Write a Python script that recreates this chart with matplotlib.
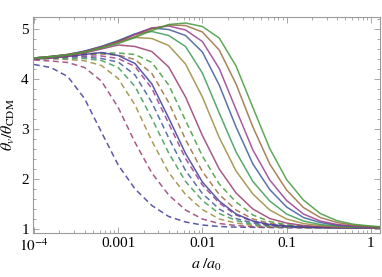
import numpy as np
import matplotlib
matplotlib.use("Agg")
import matplotlib.pyplot as plt
from matplotlib.ticker import FixedLocator, NullFormatter

plt.rcParams["mathtext.fontset"] = "stix"
plt.rcParams["font.family"] = ["Liberation Serif", "DejaVu Serif"]

# log10(a/a0) sample positions shared by every curve
log_a = [-4.0, -3.8, -3.6, -3.4, -3.2, -3.0, -2.8, -2.6, -2.4, -2.2, -2.0,
         -1.8, -1.6, -1.4, -1.2, -1.0, -0.8, -0.6, -0.4, -0.2, 0.0, 0.1]

# dashed family
dashed_1 = [4.29, 4.23, 4.05, 3.61, 2.94, 2.28, 1.80, 1.47, 1.25, 1.14, 1.08,
            1.05, 1.037, 1.033, 1.03, 1.027, 1.025, 1.022, 1.021, 1.02, 1.02, 1.02]
dashed_2 = [4.38, 4.36, 4.33, 4.23, 3.96, 3.43, 2.73, 2.12, 1.68, 1.38, 1.20,
            1.11, 1.07, 1.046, 1.035, 1.03, 1.027, 1.025, 1.022, 1.02, 1.02, 1.02]
dashed_3 = [4.40, 4.41, 4.39, 4.365, 4.27, 4.01, 3.48, 2.76, 2.13, 1.69, 1.39,
            1.20, 1.12, 1.07, 1.046, 1.034, 1.03, 1.027, 1.025, 1.022, 1.02, 1.02]
dashed_4 = [4.40, 4.41, 4.41, 4.41, 4.37, 4.23, 3.85, 3.21, 2.52, 1.95, 1.57,
            1.31, 1.17, 1.09, 1.06, 1.04, 1.033, 1.028, 1.025, 1.022, 1.02, 1.02]
dashed_5 = [4.41, 4.43, 4.44, 4.44, 4.41, 4.34, 4.08, 3.53, 2.82, 2.17, 1.71,
            1.40, 1.21, 1.12, 1.07, 1.047, 1.035, 1.03, 1.026, 1.023, 1.02, 1.02]
dashed_6 = [4.41, 4.43, 4.45, 4.46, 4.46, 4.41, 4.25, 3.81, 3.11, 2.41, 1.88,
            1.52, 1.28, 1.15, 1.08, 1.056, 1.04, 1.034, 1.028, 1.024, 1.021, 1.02]
dashed_7 = [4.42, 4.44, 4.47, 4.49, 4.50, 4.48, 4.39, 4.11, 3.53, 2.79, 2.15,
            1.69, 1.38, 1.20, 1.115, 1.067, 1.045, 1.035, 1.03, 1.026, 1.023, 1.022]
dashed_8 = [4.42, 4.45, 4.48, 4.50, 4.52, 4.52, 4.49, 4.33, 3.88, 3.17, 2.46,
            1.90, 1.54, 1.28, 1.15, 1.086, 1.057, 1.04, 1.034, 1.028, 1.024, 1.022]

# solid family
solid_1 = [4.40, 4.42, 4.45, 4.49, 4.53, 4.47, 4.31, 3.90, 3.22, 2.51, 1.94,
           1.56, 1.30, 1.16, 1.09, 1.06, 1.04, 1.034, 1.028, 1.024, 1.021, 1.02]
solid_2 = [4.40, 4.42, 4.46, 4.52, 4.60, 4.68, 4.65, 4.55, 4.24, 3.64, 2.87,
           2.20, 1.72, 1.40, 1.21, 1.12, 1.07, 1.047, 1.035, 1.029, 1.025, 1.023]
solid_3 = [4.41, 4.44, 4.48, 4.54, 4.64, 4.75, 4.83, 4.81, 4.67, 4.30, 3.64,
           2.83, 2.16, 1.70, 1.38, 1.20, 1.11, 1.068, 1.045, 1.035, 1.03, 1.027]
solid_4 = [4.41, 4.44, 4.48, 4.55, 4.65, 4.77, 4.90, 4.95, 4.87, 4.65, 4.12,
           3.32, 2.54, 1.95, 1.56, 1.30, 1.16, 1.09, 1.06, 1.04, 1.035, 1.03]
solid_5 = [4.42, 4.45, 4.49, 4.56, 4.65, 4.76, 4.90, 5.02, 4.99, 4.87, 4.54,
           3.88, 3.04, 2.30, 1.79, 1.44, 1.23, 1.13, 1.075, 1.05, 1.036, 1.033]
solid_6 = [4.42, 4.45, 4.49, 4.55, 4.64, 4.75, 4.89, 5.02, 5.06, 4.98, 4.75,
           4.21, 3.39, 2.58, 1.98, 1.57, 1.30, 1.16, 1.09, 1.06, 1.04, 1.036]
solid_7 = [4.42, 4.45, 4.49, 4.54, 4.63, 4.73, 4.85, 5.00, 5.08, 5.07, 4.94,
           4.58, 3.90, 3.04, 2.30, 1.78, 1.43, 1.23, 1.13, 1.074, 1.049, 1.04]
solid_8 = [4.42, 4.45, 4.48, 4.54, 4.62, 4.71, 4.83, 4.97, 5.09, 5.12, 5.05,
           4.82, 4.26, 3.43, 2.61, 1.99, 1.58, 1.31, 1.165, 1.093, 1.06, 1.048]

dashed = [dashed_1, dashed_2, dashed_3, dashed_4, dashed_5, dashed_6, dashed_7, dashed_8]
solid = [solid_1, solid_2, solid_3, solid_4, solid_5, solid_6, solid_7, solid_8]

# Mathematica's old default plot colours
colors = [(0.2472, 0.24, 0.6), (0.6, 0.24, 0.4429), (0.6, 0.547, 0.24),
          (0.24, 0.6, 0.3369), (0.24, 0.3532, 0.6), (0.6, 0.24, 0.5633),
          (0.6, 0.4266, 0.24), (0.2635, 0.6, 0.24)]

xtick_vals = [1e-4, 1e-3, 1e-2, 1e-1, 1]
xtick_labels = [r'$10^{-4}$', '0.001', '0.01', '0.1', '1']
ytick_vals = [1, 2, 3, 4, 5]

a = 10.0 ** np.array(log_a)

fig = plt.figure(figsize=(3.82, 2.77), dpi=100)
ax = fig.add_axes([0.0864, 0.1588, 0.9084, 0.7798])

for ys, c in zip(dashed, colors):
    ax.plot(a, ys, color=c, lw=1.1, dashes=(3.8, 2.4), alpha=0.85)
for ys, c in zip(solid, colors):
    ax.plot(a, ys, color=c, lw=1.1, alpha=0.85)

ax.set_xscale('log')
ax.set_xlim(10 ** -4.012, 10 ** 0.11)
ax.set_ylim(0.92, 5.24)

ax.set_xticks(xtick_vals)
ax.set_xticklabels(xtick_labels)
ax.xaxis.set_minor_locator(FixedLocator(
    [m * 10.0 ** e for e in range(-4, 1) for m in range(2, 10)]))
ax.xaxis.set_minor_formatter(NullFormatter())
ax.set_yticks(ytick_vals)
ax.yaxis.set_minor_locator(FixedLocator(np.arange(1.0, 5.21, 0.2)))

frame_gray = '#9a9a9a'
for sp in ax.spines.values():
    sp.set_color(frame_gray)
    sp.set_linewidth(0.8)
ax.tick_params(which='both', direction='in', top=True, right=True,
               color=frame_gray, width=0.6, labelsize=11, labelcolor='black')
ax.tick_params(which='major', length=4, pad=3)
ax.tick_params(which='minor', length=2)

ax.set_xlabel(r'$a\;/a_0$', fontsize=11.5, labelpad=2)
ax.set_ylabel(r'$\theta_v/\theta_{\rm CDM}$', fontsize=11.5, labelpad=3)

fig.savefig('out.png', dpi=100)
